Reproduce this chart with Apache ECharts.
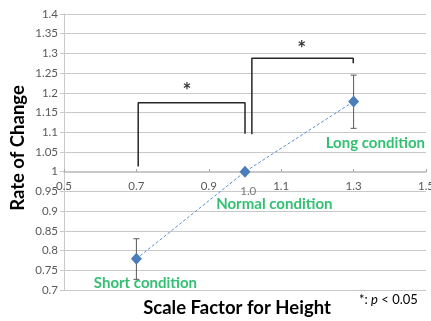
<!DOCTYPE html>
<html>
<head>
<meta charset="utf-8">
<script src="https://cdn.jsdelivr.net/npm/echarts@6/dist/echarts.min.js"></script>
<style>
  html, body { margin: 0; padding: 0; background: #fff; }
  #main { width: 431px; height: 321px; }
</style>
</head>
<body>
<div id="main"></div>
<script>
// scale factor / rate of change
var scaleX = [0.7, 1.0, 1.3];
var rate = [0.779, 1.0, 1.178];
var errLow = [0.727, 1.0, 1.110];
var errHigh = [0.830, 1.0, 1.245];

// significance brackets
var bracketA = [[0.705, 1.013], [0.705, 1.175], [1.0, 1.175], [1.0, 1.096]];
var bracketB = [[1.019, 1.095], [1.019, 1.288], [1.299, 1.288], [1.299, 1.275]];

// text placed in data space
var condNames = ['Short condition', 'Normal condition', 'Long condition'];
var condX = [0.725, 1.081, 1.36];
var condY = [0.718, 0.918, 1.073];
var starX = [0.84, 1.157];
var starY = [1.205, 1.311];

var myChart = echarts.init(document.getElementById('main'));
var font = 'Lato, "Liberation Sans", sans-serif';
var gridColor = '#c9c9c9';

var option = {
    animation: false,
    grid: { left: 64, right: 5, top: 14, bottom: 31, outerBoundsMode: 'none', containLabel: false },
    xAxis: {
        type: 'value',
        min: 0.5,
        max: 1.5,
        interval: 0.2,
        offset: -118,
        axisLine: { show: true, lineStyle: { color: gridColor } },
        axisTick: { show: true, inside: true, length: 3, lineStyle: { color: '#a6a6a6' } },
        splitLine: { show: false },
        axisLabel: {
            color: '#595959', fontSize: 11.5, fontFamily: font, margin: 8,
            formatter: function (v) { return +v.toFixed(1); }
        }
    },
    yAxis: {
        type: 'value',
        min: 0.7,
        max: 1.4,
        interval: 0.05,
        axisLine: { show: true, lineStyle: { color: gridColor } },
        axisTick: { show: true, length: 4, lineStyle: { color: gridColor } },
        splitLine: { show: true, lineStyle: { color: gridColor } },
        axisLabel: {
            color: '#595959', fontSize: 11.5, fontFamily: font, margin: 6,
            formatter: function (v) { return +v.toFixed(2); }
        }
    },
    graphic: [
        {
            type: 'text', x: 18, y: 148, rotation: Math.PI / 2,
            style: {
                text: 'Rate of Change', fill: '#000', align: 'center', verticalAlign: 'middle',
                font: 'bold 18.5px ' + font
            }
        },
        {
            type: 'text', x: 237, y: 308,
            style: {
                text: 'Scale Factor for Height', fill: '#000', align: 'center', verticalAlign: 'middle',
                font: 'bold 18.5px ' + font
            }
        },
        {
            type: 'text', x: 359, y: 300,
            style: {
                text: '{a|*: }{p|p}{a| < 0.05}', verticalAlign: 'middle',
                rich: {
                    a: { fontSize: 13, fontFamily: font, fill: '#000' },
                    p: { fontSize: 13, fontFamily: font, fontStyle: 'italic', fill: '#000' }
                }
            }
        }
    ],
    series: [
        {
            type: 'line',
            data: bracketA,
            symbol: 'none',
            lineStyle: { color: '#262626', width: 1.5 },
            z: 3
        },
        {
            type: 'line',
            data: bracketB,
            symbol: 'none',
            lineStyle: { color: '#262626', width: 1.5 },
            z: 3
        },
        {
            type: 'custom',
            data: scaleX.map(function (x, i) { return [x, errLow[i], errHigh[i]]; }),
            renderItem: function (params, api) {
                var lo = api.coord([api.value(0), api.value(1)]);
                var hi = api.coord([api.value(0), api.value(2)]);
                if (Math.abs(lo[1] - hi[1]) < 1) return null;
                var w = 3;
                var st = { stroke: '#595959', lineWidth: 1 };
                return {
                    type: 'group',
                    children: [
                        { type: 'line', shape: { x1: lo[0], y1: lo[1], x2: hi[0], y2: hi[1] }, style: st },
                        { type: 'line', shape: { x1: lo[0] - w, y1: lo[1], x2: lo[0] + w, y2: lo[1] }, style: st },
                        { type: 'line', shape: { x1: hi[0] - w, y1: hi[1], x2: hi[0] + w, y2: hi[1] }, style: st }
                    ]
                };
            },
            z: 4
        },
        {
            type: 'line',
            data: scaleX.map(function (x, i) { return [x, rate[i]]; }),
            symbol: 'diamond',
            symbolSize: [11, 12],
            itemStyle: { color: '#4a7ebb' },
            lineStyle: { color: '#5b8fd0', width: 1, type: [3, 2] },
            z: 5
        },
        {
            type: 'scatter',
            symbolSize: 1,
            itemStyle: { color: 'rgba(0,0,0,0)' },
            data: condNames.map(function (n, i) { return { value: [condX[i], condY[i]], name: n }; }),
            label: {
                show: true, position: 'inside', formatter: '{b}',
                color: '#00b050', fontSize: 15, fontWeight: 'bold', fontFamily: font
            },
            z: 6
        },
        {
            type: 'scatter',
            symbolSize: 1,
            itemStyle: { color: 'rgba(0,0,0,0)' },
            data: [{ value: [1.009, 0.951], name: '1.0' }],
            label: {
                show: true, position: 'inside', formatter: '{b}',
                color: '#595959', fontSize: 11.5, fontFamily: font
            },
            z: 6
        },
        {
            type: 'scatter',
            symbolSize: 1,
            itemStyle: { color: 'rgba(0,0,0,0)' },
            data: starX.map(function (x, i) { return [x, starY[i]]; }),
            label: {
                show: true, position: 'inside', formatter: '*',
                color: '#000', fontSize: 21, fontWeight: 'bold', fontFamily: font
            },
            z: 6
        }
    ]
};
myChart.setOption(option);
</script>
</body>
</html>
